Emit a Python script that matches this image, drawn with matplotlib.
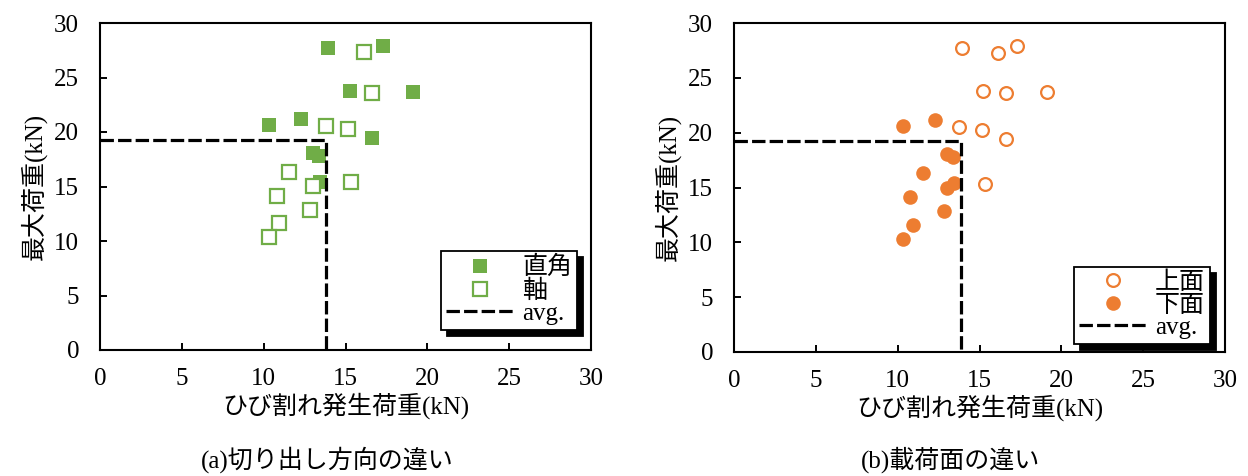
import matplotlib
matplotlib.use("Agg")
import matplotlib.pyplot as plt

plt.rcParams["font.family"] = ["Liberation Serif", "Noto Sans CJK JP"]
plt.rcParams["font.size"] = 18

# (a) 切り出し方向
a_right_x = [13.95, 17.3, 15.25, 19.1, 10.34, 12.3, 16.63, 12.99, 13.36, 13.44]
a_right_y = [27.7, 27.9, 23.8, 23.7, 20.67, 21.2, 19.45, 18.1, 17.8, 15.44]
a_axis_x = [16.15, 16.63, 13.79, 15.13, 11.57, 13.0, 15.35, 10.79, 12.83, 10.93, 10.34]
a_axis_y = [27.3, 23.6, 20.58, 20.3, 16.36, 15.07, 15.38, 14.16, 12.87, 11.65, 10.37]
a_avg = (13.8, 19.3)

# (b) 載荷面
b_top_x = [13.93, 16.13, 17.29, 15.23, 16.62, 19.1, 13.77, 15.15, 16.62, 15.33]
b_top_y = [27.74, 27.3, 27.87, 23.8, 23.65, 23.73, 20.54, 20.27, 19.42, 15.35]
b_bot_x = [10.32, 12.3, 12.99, 13.36, 11.57, 12.99, 13.46, 10.77, 12.83, 10.93, 10.32]
b_bot_y = [20.63, 21.2, 18.05, 17.75, 16.3, 15.0, 15.37, 14.1, 12.82, 11.6, 10.3]
b_avg = (13.85, 19.27)

green = "#70AD47"
orange = "#ED7D31"

fig = plt.figure(figsize=(12.48, 4.76), dpi=100)
W, H = 1248, 476
ax1 = fig.add_axes([100 / W, 1 - 350 / H, 491 / W, 327 / H])
ax2 = fig.add_axes([734 / W, 1 - 352 / H, 491 / W, 329 / H])


def avg_line(ax, avg):
    x, y = avg
    ax.plot([0, x, x], [y, y, 0], color="black", lw=2.3,
            linestyle=(0, (4.2, 1.3)), label="avg.", zorder=4, clip_on=False)


def style(ax):
    ax.set_xlim(0, 30)
    ax.set_ylim(0, 30)
    ax.set_xticks(range(0, 31, 5))
    ax.set_yticks(range(0, 31, 5))
    ax.tick_params(direction="in", length=5, width=1.4)
    ax.tick_params(axis="x", pad=13)
    ax.tick_params(axis="y", pad=15)
    for s in ax.spines.values():
        s.set_linewidth(1.5)
    ax.set_xlabel("ひび割れ発生荷重(kN)", labelpad=2)
    ax.set_ylabel("最大荷重(kN)", labelpad=5)


def legend(ax, anchor):
    leg = ax.legend(loc="lower right", bbox_to_anchor=anchor, borderaxespad=0,
                    numpoints=1, handlelength=2.75, handletextpad=0.3,
                    labelspacing=0.0, borderpad=0.2, fancybox=False,
                    framealpha=1, edgecolor="black",
                    shadow={"ox": 4.3, "oy": -4.3, "facecolor": "black",
                            "edgecolor": "black", "alpha": 1})
    leg.get_frame().set_linewidth(1.3)
    return leg


ax1.plot(a_right_x, a_right_y, "s", color=green, ms=10.5, mew=0, label="直角", zorder=3)
ax1.plot(a_axis_x, a_axis_y, "s", mfc="white", mec=green, ms=9.6, mew=1.6, label="軸", zorder=3)
avg_line(ax1, a_avg)
style(ax1)
legend(ax1, (0.9715, 0.061))

ax2.plot(b_top_x, b_top_y, "o", mfc="white", mec=orange, ms=9.2, mew=1.6, label="上面", zorder=3)
ax2.plot(b_bot_x, b_bot_y, "o", color=orange, ms=10.5, mew=0, label="下面", zorder=3)
avg_line(ax2, b_avg)
style(ax2)
legend(ax2, (0.9695, 0.024))

fig.text(327 / W, 1 - 460 / H, "(a)切り出し方向の違い", ha="center", va="center")
fig.text(950 / W, 1 - 460 / H, "(b)載荷面の違い", ha="center", va="center")

fig.savefig("out.png", dpi=100)
